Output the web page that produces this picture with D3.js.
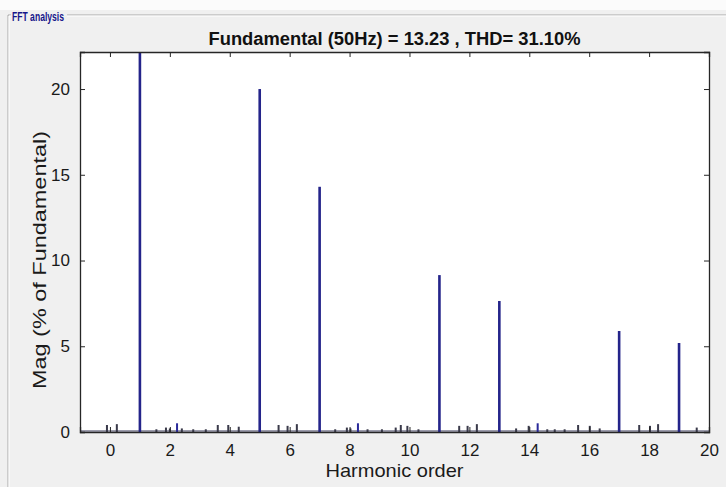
<!DOCTYPE html>
<html>
<head>
<meta charset="utf-8">
<script src="https://cdn.jsdelivr.net/npm/d3@7"></script>
<style>
  html, body { margin: 0; padding: 0; background: #f0f0f0; }
  svg { display: block; }
  text { font-family: "Liberation Sans", Arial, Helvetica, sans-serif; }
</style>
</head>
<body>
<script>
// Harmonic spectrum (% of fundamental)
const harmonicOrders = [1, 5, 7, 11, 13, 17, 19];
const harmonicMags   = [100, 20.0, 14.3, 9.15, 7.64, 5.89, 5.19];

// Small interharmonic components
const interOrders = [-0.1, 0.23, 1.55, 1.87, 2.0, 2.24, 2.4, 2.78, 3.2, 3.6, 3.95, 4.3,
                     5.63, 5.93, 6.24, 7.52, 7.91, 8.03, 8.28, 8.6, 9.08,
                     9.54, 9.71, 9.93, 10.3, 11.66, 11.94, 12.25, 13.56, 13.98, 14.28, 14.6,
                     14.85, 15.18, 15.63, 16.02, 16.35, 17.67, 18.03, 18.3, 19.59];
const interMags   = [0.35, 0.4, 0.1, 0.2, 0.15, 0.45, 0.15, 0.1, 0.1, 0.35, 0.35, 0.25,
                     0.35, 0.3, 0.4, 0.1, 0.2, 0.15, 0.45, 0.1, 0.1,
                     0.2, 0.35, 0.3, 0.1, 0.3, 0.3, 0.4, 0.15, 0.3, 0.45, 0.1,
                     0.1, 0.1, 0.35, 0.3, 0.15, 0.35, 0.3, 0.4, 0.2];

const xTicks = [0, 2, 4, 6, 8, 10, 12, 14, 16, 18, 20];
const yTicks = [0, 5, 10, 15, 20];

const titleText = "Fundamental (50Hz) = 13.23 , THD= 31.10%";
const panelTitle = "FFT analysis";
const xLabel = "Harmonic order";
const yLabel = "Mag (% of Fundamental)";

const W = 726, H = 487;
const margin = { left: 80, right: 17, top: 52, bottom: 55 };
const pw = W - margin.left - margin.right;
const ph = H - margin.top - margin.bottom;

const svg = d3.select("body").append("svg").attr("width", W).attr("height", H);

// Window background and group box
svg.append("rect").attr("width", W).attr("height", H).attr("fill", "#f0f0f0");
svg.append("rect").attr("width", W).attr("height", 10).attr("fill", "#fbfbfb");
const gb = svg.append("g");
gb.append("path").attr("d", `M8,${H} V15 H11 M67,15 H${W}`)
  .attr("fill", "none").attr("stroke", "#a8a8a8").attr("stroke-width", 1);
gb.append("path").attr("d", `M9,${H} V16 H11 M67,16 H${W}`)
  .attr("fill", "none").attr("stroke", "#ffffff").attr("stroke-width", 1);
svg.append("text").attr("x", 12).attr("y", 21)
  .attr("font-size", 12).attr("fill", "#16168a").attr("font-weight", "bold")
  .attr("textLength", 52).attr("lengthAdjust", "spacingAndGlyphs").text(panelTitle);

const x = d3.scaleLinear().domain([-1, 20]).range([0, pw]);
const y = d3.scaleLinear().domain([0, 22.16]).range([ph, 0]);

const g = svg.append("g").attr("transform", `translate(${margin.left},${margin.top})`);
g.append("rect").attr("width", pw).attr("height", ph).attr("fill", "#ffffff");

const defs = svg.append("defs");
defs.append("clipPath").attr("id", "plotClip")
  .append("rect").attr("width", pw).attr("height", ph);

const bars = g.append("g").attr("clip-path", "url(#plotClip)");

// baseline trace
bars.append("line").attr("x1", 0).attr("x2", pw).attr("y1", y(0) - 1).attr("y2", y(0) - 1)
  .attr("stroke", "#3a3a5a").attr("stroke-width", 1.2);

bars.selectAll("rect.inter").data(d3.zip(interOrders, interMags)).join("rect")
  .attr("class", "inter")
  .attr("x", d => x(d[0]) - 1)
  .attr("width", 2)
  .attr("y", d => y(d[1]) - 1)
  .attr("height", d => y(0) - y(d[1]) + 1)
  .attr("fill", d => d[1] >= 0.45 ? "#2a2a9a" : "#3a3a4a");

bars.selectAll("rect.harm").data(d3.zip(harmonicOrders, harmonicMags)).join("rect")
  .attr("class", "harm")
  .attr("x", d => x(d[0]) - 1.3)
  .attr("width", 2.6)
  .attr("y", d => y(d[1]))
  .attr("height", d => y(0) - y(d[1]))
  .attr("fill", "#24248a");

// Axes: boxed frame with inward ticks on all four sides
const tickLen = 5;
const axisColor = "#262626";
const axBottom = g.append("g").attr("transform", `translate(0,${ph})`)
  .call(d3.axisBottom(x).tickValues(xTicks).tickSize(-tickLen).tickPadding(12).tickFormat(d3.format("d")));
const axTop = g.append("g")
  .call(d3.axisTop(x).tickValues(xTicks).tickSize(-tickLen).tickFormat(""));
const axLeft = g.append("g")
  .call(d3.axisLeft(y).tickValues(yTicks).tickSize(-tickLen).tickPadding(10).tickFormat(d3.format("d")));
const axRight = g.append("g").attr("transform", `translate(${pw},0)`)
  .call(d3.axisRight(y).tickValues(yTicks).tickSize(-tickLen).tickFormat(""));

[axBottom, axTop, axLeft, axRight].forEach(a => {
  a.select(".domain").attr("stroke", axisColor).attr("stroke-width", 1.3);
  a.selectAll(".tick line").attr("stroke", axisColor);
  a.selectAll("text").attr("font-size", 17).attr("fill", "#1a1a1a")
    .attr("font-family", "Liberation Sans, Arial, sans-serif");
});

// Titles
svg.append("text").attr("x", margin.left + pw / 2).attr("y", 45)
  .attr("text-anchor", "middle").attr("font-size", 18).attr("font-weight", "bold")
  .attr("fill", "#111").attr("textLength", 372).attr("lengthAdjust", "spacingAndGlyphs")
  .text(titleText);

svg.append("text").attr("x", margin.left + pw / 2).attr("y", 477)
  .attr("text-anchor", "middle").attr("font-size", 19).attr("fill", "#1a1a1a")
  .attr("textLength", 138).attr("lengthAdjust", "spacingAndGlyphs")
  .text(xLabel);

svg.append("text").attr("transform", "translate(46,260) rotate(-90)")
  .attr("text-anchor", "middle").attr("font-size", 18).attr("fill", "#1a1a1a")
  .attr("textLength", 258).attr("lengthAdjust", "spacingAndGlyphs")
  .text(yLabel);
</script>
</body>
</html>
